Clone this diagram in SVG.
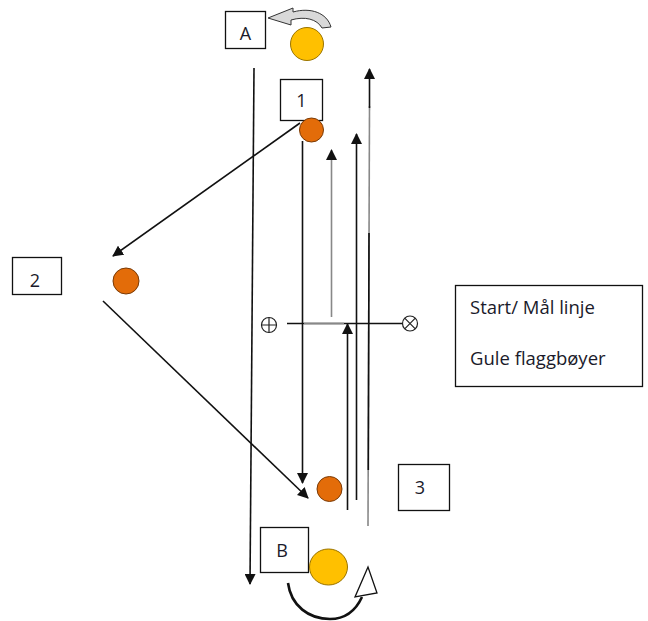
<svg xmlns="http://www.w3.org/2000/svg" width="648" height="621" viewBox="0 0 648 621">
<style>
  .box { fill: #fff; stroke: #111; stroke-width: 1.3; }
  .lbl { font-family: "Open Sans", "Liberation Sans", sans-serif; font-size: 18px; fill: #1a1a2a; text-anchor: middle; }
  .leg { font-family: "Open Sans", "Liberation Sans", sans-serif; font-size: 18.5px; fill: #1a1a2a; }
  .buoy { fill: #E36C09; stroke: #7a3a05; stroke-width: 1; }
  .ball { fill: #FFC000; stroke: #9a7400; stroke-width: 1; }
  .ln { fill: none; stroke: #111; stroke-width: 1.6; }
  .gray { fill: none; stroke: #888; stroke-width: 1.6; }
  .sym { fill: none; stroke: #222; stroke-width: 1.2; }
</style>
<defs>
  <marker id="ah" markerWidth="11" markerHeight="11" refX="10" refY="5.5" orient="auto" markerUnits="userSpaceOnUse">
    <path d="M0,0 L11,5.5 L0,11 Z" fill="#111"/>
  </marker>
</defs>

<g id="connectors">
  <!-- long left line down -->
  <path class="ln" d="M254,68 L250,584" stroke="#444" marker-end="url(#ah)"/>
  <!-- 1 -> 2 -->
  <path class="ln" d="M300,123 L113,256" marker-end="url(#ah)"/>
  <!-- 2 -> 3 -->
  <path class="ln" d="M103,301 L308,498" marker-end="url(#ah)"/>
  <!-- 1 -> down -->
  <path class="ln" d="M302.5,141 L302.5,483" marker-end="url(#ah)"/>
  <!-- up gray short -->
  <path class="gray" d="M331.5,317 L331.5,150" marker-end="url(#ah)" stroke="#777"/>
  <!-- up from bottom to start line -->
  <path class="ln" d="M347.5,510 L347.5,324" marker-end="url(#ah)"/>
  <!-- up long mid -->
  <path class="ln" d="M356.5,500 L356.5,134" marker-end="url(#ah)"/>
  <!-- up long right -->
  <path class="gray" d="M368,526 L369.5,106" stroke="#8a8a8a"/>
  <path class="ln" d="M368.3,470 L369,233" stroke="#333"/>
  <path class="ln" d="M369.5,108 L369.5,69" marker-end="url(#ah)"/>
  <!-- start / finish line -->
  <path class="ln" d="M287,323.5 L402,323.5" stroke="#222"/>
  <path class="gray" d="M304,323.5 L344,323.5" stroke="#aaa"/>
  <!-- top curved arrow -->
  <path d="M331,27 C327,13 311,7 293,12 L293,8 L268,18 L291,25 L291,20 C305,16 317,19 322,28 Z" fill="#d9d9d9" stroke="#333" stroke-width="1"/>
  <!-- bottom curved arrow -->
  <path d="M288,583 C291,606 309,619 330,619 C346,619 356,610 362,597" fill="none" stroke="#111" stroke-width="2.6"/>
  <path d="M368,567 L355,597 L377,593 Z" fill="#fff" stroke="#111" stroke-width="1.3"/>
</g>

<g id="nodeA">
  <rect class="box" x="225.5" y="11.5" width="40" height="37"/>
  <text class="lbl" x="245.5" y="40">A</text>
</g>
<g id="ballTop">
  <circle class="ball" cx="307" cy="44" r="16.5"/>
</g>
<g id="node1">
  <rect class="box" x="280.5" y="79.5" width="42" height="41"/>
  <text class="lbl" x="301.5" y="107">1</text>
</g>
<g id="buoy1">
  <circle class="buoy" cx="311.5" cy="130" r="12"/>
</g>
<g id="node2">
  <rect class="box" x="12.5" y="257.5" width="49" height="37"/>
  <text class="lbl" x="35" y="287">2</text>
</g>
<g id="buoy2">
  <circle class="buoy" cx="126" cy="281" r="13"/>
</g>
<g id="startSym">
  <circle class="sym" cx="269" cy="325" r="7.5"/>
  <path class="sym" d="M261.5,325 H276.5 M269,317.5 V332.5"/>
</g>
<g id="finishSym">
  <circle class="sym" cx="410" cy="323.5" r="7.5"/>
  <path class="sym" d="M404.7,318.2 L415.3,328.8 M415.3,318.2 L404.7,328.8"/>
</g>
<g id="legend">
  <rect class="box" x="455.5" y="285.5" width="187" height="101"/>
  <text class="leg" x="470" y="314">Start/ Mål linje</text>
  <text class="leg" x="470" y="365">Gule flaggbøyer</text>
</g>
<g id="buoy3">
  <circle class="buoy" cx="329.5" cy="489" r="12.5"/>
</g>
<g id="node3">
  <rect class="box" x="398.5" y="464.5" width="51" height="46"/>
  <text class="lbl" x="420" y="494">3</text>
</g>
<g id="nodeB">
  <rect class="box" x="260.5" y="527.5" width="48" height="45"/>
  <text class="lbl" x="282" y="557">B</text>
</g>
<g id="ballBottom">
  <ellipse class="ball" cx="328.5" cy="567" rx="19" ry="18"/>
</g>
</svg>
